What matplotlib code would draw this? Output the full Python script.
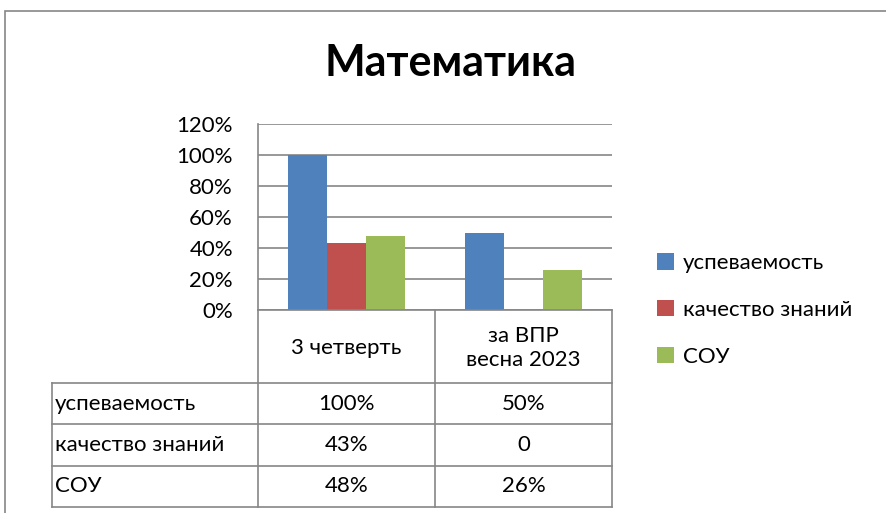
import matplotlib
matplotlib.use("Agg")
from matplotlib import pyplot as plt
from matplotlib.patches import Rectangle
from matplotlib.ticker import PercentFormatter
import numpy as np

plt.rcParams['font.family'] = ['Lato', 'Noto Sans', 'DejaVu Sans']

# данные
kategorii = ['3 четверть', 'за ВПР\nвесна 2023']
serii = ['успеваемость', 'качество знаний', 'СОУ']
uspevaemost = [100, 50]
kachestvo = [43, 0]
sou = [48, 26]
podpisi = [['100%', '50%'], ['43%', '0'], ['48%', '26%']]
tsveta = ['#4F81BD', '#C0504D', '#9BBB59']

W, H = 886, 513
fs = 16
fig = plt.figure(figsize=(W / 100, H / 100), dpi=100)

def px(x0, y0, x1, y1):
    # прямоугольник в пикселях -> координаты фигуры
    return [x0 / W, 1 - y1 / H, (x1 - x0) / W, (y1 - y0) / H]

# рамка диаграммы
fig.patches.append(Rectangle((4.5 / W, -0.1), 1.2, 1 - 11.5 / H + 0.1,
                             transform=fig.transFigure, fill=False,
                             edgecolor='#868686', linewidth=1.2))

fig.text(451 / W, 1 - 63 / H, 'Математика', ha='center', va='center',
         fontsize=31, fontweight='bold')

# область построения
ax = fig.add_axes(px(258, 124, 612, 310))
x = np.arange(len(kategorii))
w = 0.22
vse = [uspevaemost, kachestvo, sou]
for i, (vals, name) in enumerate(zip(vse, serii)):
    ax.bar(x + (i - 1) * w, vals, width=w, color=tsveta[i], label=name, zorder=3)
ax.set_xlim(-0.5, len(kategorii) - 0.5)
ax.set_ylim(0, 120)
ax.set_yticks(range(0, 121, 20))
ax.yaxis.set_major_formatter(PercentFormatter(decimals=0))
ax.set_xticks([])
ax.grid(axis='y', color='#868686', linewidth=1.2, zorder=0)
for s in ['top', 'right', 'bottom']:
    ax.spines[s].set_visible(False)
ax.spines['left'].set_color('#868686')
ax.spines['left'].set_linewidth(1.2)
ax.tick_params(axis='y', length=0, pad=18, labelsize=fs)

# легенда
ax.legend(loc='center left', bbox_to_anchor=(637 / W, 1 - 310 / H),
          bbox_transform=fig.transFigure, frameon=False, fontsize=fs,
          handlelength=0.75, handleheight=0.75, handletextpad=0.4,
          labelspacing=1.2)

# таблица данных
tab = fig.add_axes([0, 0, 1, 1])
tab.set_xlim(0, W)
tab.set_ylim(H, 0)
tab.axis('off')
lc = '#868686'
kol = [258, 435, 612]
stroki = [383, 424, 466, 507]
for xx in kol:
    tab.plot([xx, xx], [310, 507], color=lc, lw=1.2)
tab.plot([52, 52], [383, 507], color=lc, lw=1.2)
tab.plot([258, 612], [310, 310], color=lc, lw=1.2)
for yy in stroki:
    tab.plot([52, 612], [yy, yy], color=lc, lw=1.2)
tsentry = [(kol[j] + kol[j + 1]) / 2 for j in range(len(kategorii))]
for j, k in enumerate(kategorii):
    tab.text(tsentry[j], 348, k, ha='center', va='center', fontsize=fs,
             linespacing=1.3)
for i, name in enumerate(serii):
    yc = (stroki[i] + stroki[i + 1]) / 2
    tab.text(55, yc, name, ha='left', va='center', fontsize=fs)
    for j in range(len(kategorii)):
        tab.text(tsentry[j], yc, podpisi[i][j], ha='center', va='center',
                 fontsize=fs)

fig.savefig('out.png', dpi=100)
